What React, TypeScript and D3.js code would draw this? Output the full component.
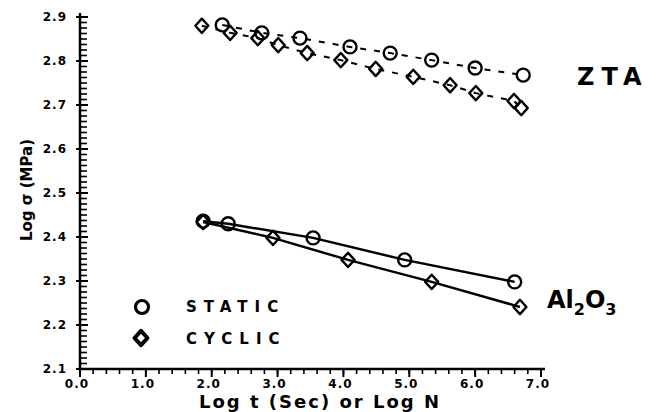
import React from 'react';
import * as d3 from 'd3';

// values: [log t, log sigma]
const ztaStatic: [number, number][] = [
  [2.16, 2.882], [2.76, 2.864], [3.34, 2.852], [4.10, 2.832],
  [4.71, 2.818], [5.34, 2.802], [6.00, 2.784], [6.73, 2.768],
];
const ztaCyclic: [number, number][] = [
  [1.85, 2.880], [2.28, 2.864], [2.70, 2.852], [3.01, 2.836],
  [3.45, 2.818], [3.96, 2.802], [4.49, 2.782], [5.06, 2.764],
  [5.62, 2.745], [6.01, 2.727], [6.59, 2.709], [6.70, 2.693],
];
const aluminaStatic: [number, number][] = [
  [1.87, 2.436], [2.25, 2.430], [3.54, 2.398], [4.93, 2.348], [6.60, 2.298],
];
const aluminaCyclic: [number, number][] = [
  [1.87, 2.434], [2.93, 2.398], [4.07, 2.348], [5.34, 2.298], [6.68, 2.241],
];

const xTicks = [0, 1, 2, 3, 4, 5, 6, 7];
const yTicks = [2.1, 2.2, 2.3, 2.4, 2.5, 2.6, 2.7, 2.8, 2.9];

const W = 658;
const H = 412;
const font = "'DejaVu Sans', Arial, sans-serif";

const x = d3.scaleLinear().domain([0, 7]).range([80, 541]);
const y = d3.scaleLinear().domain([2.1, 2.9]).range([369, 17]);

const line = d3.line<[number, number]>()
  .x(d => x(d[0]))
  .y(d => y(d[1]));

const Circle = ({ cx, cy, r = 6.5, sw = 2.4 }: any) => (
  <circle cx={cx} cy={cy} r={r} fill="none" stroke="#000" strokeWidth={sw} />
);

const Diamond = ({ cx, cy, s = 6.5, sw = 2.4, fill = 'none' }: any) => (
  <path
    d={`M${cx},${cy - s * 1.1}L${cx + s},${cy}L${cx},${cy + s * 1.1}L${cx - s},${cy}Z`}
    fill={fill}
    stroke="#000"
    strokeWidth={sw}
    strokeLinejoin="round"
  />
);

export default function App() {
  // minor ticks
  const xMinor = d3.range(0, 7.001, 0.2);
  const yMinor = d3.range(2.1, 2.9001, 0.0125);

  return (
    <svg
      width={W}
      height={H}
      style={{ position: 'absolute', left: 0, top: 0, background: '#fff' }}
      fontFamily={font}
    >
      <rect width={W} height={H} fill="#fff" />

      {/* axes */}
      <line x1={x(0)} x2={x(0)} y1={y(2.9) - 4} y2={y(2.1)} stroke="#000" strokeWidth={2.5} />
      <line x1={x(0) - 2} x2={x(7) + 4} y1={y(2.1)} y2={y(2.1)} stroke="#000" strokeWidth={2.5} />

      {yMinor.map((v, i) => (
        <line key={'ym' + i} x1={x(0) - 1} x2={x(0) + 7} y1={y(v)} y2={y(v)} stroke="#000" strokeWidth={1.6} />
      ))}
      {yTicks.map(v => (
        <g key={'yt' + v}>
          <line x1={x(0) - 4} x2={x(0) + 8} y1={y(v)} y2={y(v)} stroke="#000" strokeWidth={2} />
          <text x={x(0) - 13} y={y(v)} dy="0.35em" textAnchor="end" fontSize={12} fontWeight="bold" letterSpacing={1}>
            {v.toFixed(1)}
          </text>
        </g>
      ))}

      {xMinor.map((v, i) => (
        <line key={'xm' + i} x1={x(v)} x2={x(v)} y1={y(2.1)} y2={y(2.1) + 5} stroke="#000" strokeWidth={1.6} />
      ))}
      {xTicks.map(v => (
        <g key={'xt' + v}>
          <line x1={x(v)} x2={x(v)} y1={y(2.1)} y2={y(2.1) + 8} stroke="#000" strokeWidth={2} />
          <text x={x(v) - 3} y={y(2.1) + 19} textAnchor="middle" fontSize={12} fontWeight="bold" letterSpacing={1}>
            {v.toFixed(1)}
          </text>
        </g>
      ))}

      {/* axis titles */}
      <text x={320} y={408} textAnchor="middle" fontSize={18} fontWeight="bold" letterSpacing={2}>
        Log t (Sec) or Log N
      </text>
      <text
        transform="translate(32,190) rotate(-90)"
        textAnchor="middle"
        fontSize={15}
        fontWeight="bold"
      >
        Log σ (MPa)
      </text>

      {/* ZTA dashed lines */}
      <path d={line(ztaStatic) || ''} fill="none" stroke="#000" strokeWidth={2} strokeDasharray="6,8" />
      <path d={line(ztaCyclic) || ''} fill="none" stroke="#000" strokeWidth={2} strokeDasharray="6,8" />

      {/* Al2O3 solid lines */}
      <path d={line(aluminaStatic) || ''} fill="none" stroke="#000" strokeWidth={2.5} />
      <path d={line(aluminaCyclic) || ''} fill="none" stroke="#000" strokeWidth={2.5} />

      {/* markers */}
      {ztaCyclic.concat(aluminaCyclic).map((d, i) => (
        <Diamond key={'d' + i} cx={x(d[0])} cy={y(d[1])} />
      ))}
      {ztaStatic.concat(aluminaStatic).map((d, i) => (
        <Circle key={'c' + i} cx={x(d[0])} cy={y(d[1])} />
      ))}

      {/* series labels */}
      <text x={577} y={85} fontSize={24} fontWeight="bold" letterSpacing={7}>ZTA</text>
      <text x={547} y={308} fontSize={24} fontWeight="bold">
        Al<tspan fontSize={16} dy={7}>2</tspan><tspan dy={-7}>O</tspan><tspan fontSize={16} dy={7}>3</tspan>
      </text>

      {/* legend */}
      <Circle cx={142} cy={307} r={6.5} sw={3.2} />
      <text x={186} y={312} fontSize={15} fontWeight="bold" letterSpacing={7}>STATIC</text>
      <Diamond cx={141} cy={338} s={6.5} sw={4} />
      <text x={186} y={344} fontSize={15} fontWeight="bold" letterSpacing={7}>CYCLIC</text>
    </svg>
  );
}
